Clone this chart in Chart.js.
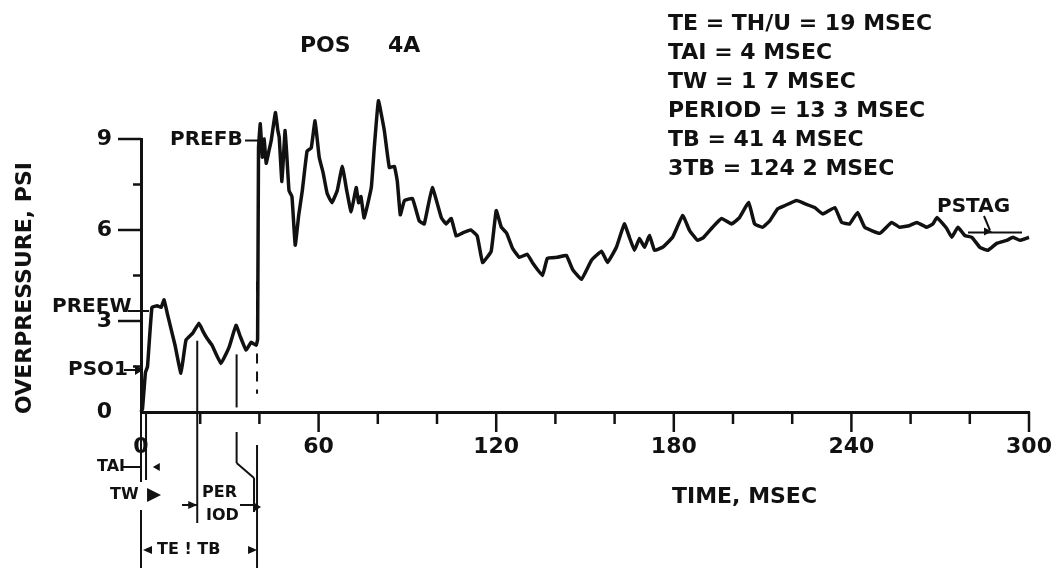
<!DOCTYPE html>
<html>
<head>
<meta charset="utf-8">
<script src="https://cdn.jsdelivr.net/npm/chart.js@4"></script>
<style>
  html, body { margin: 0; padding: 0; background: #fff; }
  #wrap { width: 1063px; height: 568px; }
</style>
</head>
<body>
<div id="wrap"><canvas id="chart" width="1063" height="568"></canvas></div>
<script>
// POS 4A overpressure trace
const timeMs = [
  0, 0.5, 1.5, 2.2, 3.7, 5.5, 6.8, 7.8, 9, 11.5,
  13.5, 15.2, 17.5, 19.6, 21, 22.3, 24, 27, 29.8, 32.1,
  33.5, 35.5, 37.2, 38.9, 39.4, 39.7, 40.3, 41, 41.6, 42.3,
  43.2, 44, 45.4, 46.2, 46.7, 47.6, 48.7, 50, 51, 52.1,
  53.3, 54.5, 56.1, 57.5, 58.8, 60.2, 61.5, 62.9, 64.5, 66.3,
  68, 69.5, 71, 72.7, 73.5, 74.3, 75.4, 77.8, 78.8, 80.2,
  82.2, 83.9, 85.6, 86.6, 87.6, 89, 91.7, 94, 95.7, 98.4,
  101.5, 103.1, 104.8, 106.5, 108.6, 111.4, 113.6, 115.4, 118.3, 120,
  121.7, 123.5, 125.5, 127.8, 130.5, 132.2, 135.6, 137.3, 140.7, 143.7,
  145.8, 148.8, 152.2, 155.6, 157.6, 160.6, 163.3, 165, 166.7, 168.4,
  170.1, 171.8, 173.5, 176.2, 179.6, 183, 185.3, 188, 190, 193.1,
  196.1, 199.5, 202.2, 205.3, 207.3, 210, 212.4, 215.1, 217.4, 221.5,
  224.2, 227.6, 230.3, 234.4, 236.7, 239.4, 242.1, 244.5, 249.6, 253.6,
  256.3, 259.7, 262.1, 265.5, 267.5, 268.9, 272.2, 273.9, 276, 278.3,
  280.7, 283.4, 286.1, 289.1, 292.5, 294.6, 296.9, 300
];
const overpressurePsi = [
  0, 0.1, 1.3, 1.5, 3.45, 3.5, 3.45, 3.7, 3.2, 2.2,
  1.28, 2.37, 2.6, 2.93, 2.65, 2.43, 2.2, 1.6, 2.15, 2.86,
  2.5, 2.04, 2.3, 2.2, 2.4, 8.7, 9.5, 8.4, 9.0, 8.2,
  8.6, 8.95, 9.87, 9.3, 9.05, 7.6, 9.28, 7.3, 7.1, 5.5,
  6.5, 7.3, 8.6, 8.7, 9.6, 8.4, 7.9, 7.2, 6.9, 7.3,
  8.1, 7.3, 6.6, 7.4, 6.9, 7.1, 6.4, 7.4, 8.7, 10.26,
  9.28, 8.06, 8.1, 7.6, 6.5, 6.97, 7.04, 6.3, 6.2, 7.4,
  6.4, 6.2, 6.38, 5.8, 5.9, 6.0, 5.8, 4.93, 5.3, 6.64,
  6.1, 5.9, 5.4, 5.1, 5.2, 4.93, 4.5, 5.07, 5.1, 5.16,
  4.7, 4.37, 5.0, 5.3, 4.93, 5.43, 6.2, 5.76, 5.33, 5.72,
  5.43, 5.82, 5.33, 5.43, 5.76, 6.48, 5.99, 5.66, 5.75, 6.09,
  6.38, 6.2, 6.41, 6.91, 6.2, 6.09, 6.3, 6.7, 6.8, 6.97,
  6.87, 6.74, 6.53, 6.74, 6.25, 6.2, 6.58, 6.09, 5.89, 6.25,
  6.09, 6.15, 6.25, 6.09, 6.2, 6.41, 6.05, 5.76, 6.09, 5.82,
  5.76, 5.43, 5.33, 5.56, 5.66, 5.76, 5.66, 5.76
];
const xTickLabels = [0, 60, 120, 180, 240, 300];
const yTickLabels = [0, 3, 6, 9];
const infoLines = [
  'TE = TH/U = 19 MSEC',
  'TAI = 4 MSEC',
  'TW = 1 7 MSEC',
  'PERIOD = 13 3 MSEC',
  'TB = 41 4 MSEC',
  '3TB = 124 2 MSEC'
];
// marker times (msec) and the PSTAG level (psi)
const teTime = 19, twTime = 1.7, taiTime = 4, periodEnd = 32.3, tbTime = 39.2;
const pstagLevel = 5.92;

const ink = '#111';
const FONT = '"DejaVu Sans", sans-serif';

const annotate = {
  id: 'annotate',
  afterDraw(chart) {
    const { ctx, scales: { x, y } } = chart;
    const X = v => x.getPixelForValue(v);
    const Y = v => y.getPixelForValue(v);
    const x0 = X(0), y0 = Y(0);

    const line = (ax, ay, bx, by) => { ctx.beginPath(); ctx.moveTo(ax, ay); ctx.lineTo(bx, by); ctx.stroke(); };
    const text = (s, px, py, size, align) => {
      ctx.font = 'bold ' + size + 'px ' + FONT;
      ctx.textAlign = align || 'left';
      ctx.textBaseline = 'middle';
      ctx.fillText(s, px, py);
    };
    const arrow = (tx, ty, dir, len, half) => {
      ctx.beginPath();
      ctx.moveTo(tx, ty);
      ctx.lineTo(tx - dir * len, ty - half);
      ctx.lineTo(tx - dir * len, ty + half);
      ctx.closePath();
      ctx.fill();
    };

    ctx.save();
    ctx.strokeStyle = ink;
    ctx.fillStyle = ink;

    // axis ticks
    ctx.lineWidth = 2.5;
    for (let v = 1.5; v <= 9; v += 1.5) {
      const len = v % 3 === 0 ? 23 : 8;
      line(x0 - len, Y(v), x0, Y(v));
    }
    for (let v = 20; v <= 300; v += 20) {
      const len = v % 60 === 0 ? 20 : 12;
      line(X(v), y0, X(v), y0 + len);
    }

    // titles
    text('POS', 300, 46, 22);
    text('4A', 388, 46, 22);
    text('TIME, MSEC', 672, 497, 22);
    ctx.save();
    ctx.translate(25, 288);
    ctx.rotate(-Math.PI / 2);
    text('OVERPRESSURE, PSI', 0, 0, 22, 'center');
    ctx.restore();

    infoLines.forEach((s, i) => text(s, 668, 24 + i * 29, 22));

    // level labels on the left
    ctx.lineWidth = 2;
    text('PREFB', 170, 140, 20);
    line(245, Y(8.95), 258, Y(8.95));
    text('PREFW', 52, 307, 20);
    line(128, 311, x0 + 8, 311);
    text('PSO1', 68, 370, 20);
    line(124, 370, x0 - 4, 370);
    arrow(x0 + 2, 370, 1, 8, 5);

    // PSTAG
    text('PSTAG', 937, 207, 20);
    line(968, Y(pstagLevel), 1022, Y(pstagLevel));
    line(984, 216, 990, Y(pstagLevel) - 2);
    arrow(992, Y(pstagLevel) - 1, 1, 8, 4);

    // vertical markers inside the plot
    ctx.lineWidth = 2;
    line(X(teTime), Y(2.35), X(teTime), y0);
    line(X(periodEnd), Y(1.9), X(periodEnd), Y(0.15));
    ctx.setLineDash([10, 8]);
    line(X(tbTime), Y(4.3), X(tbTime), Y(0.6));
    ctx.setLineDash([]);

    // markers below the axis
    line(x0, y0, x0, 482);
    line(x0, 510, x0, 568);
    line(X(twTime), y0, X(twTime), 480);
    line(X(teTime), y0, X(teTime), 523);
    line(X(periodEnd), 432, X(periodEnd), 463);
    line(X(periodEnd), 463, X(tbTime) - 3, 478);
    line(X(tbTime) - 3, 478, X(tbTime) - 3, 512);
    line(X(tbTime), 445, X(tbTime), 568);

    text('TAI', 97, 467, 16);
    line(122, 467, x0, 467);
    arrow(X(taiTime), 467, -1, 7, 4);
    text('TW', 110, 495, 16);
    arrow(X(twTime) + 15, 495, 1, 14, 7);

    arrow(X(teTime), 505, 1, 9, 4);
    line(182, 505, X(teTime), 505);
    text('PER', 202, 493, 16);
    text('IOD', 206, 516, 16);
    line(240, 505, X(tbTime), 505);
    arrow(X(tbTime) + 4, 507, 1, 8, 5);

    arrow(x0 + 2, 550, -1, 9, 4);
    text('TE ! TB', 157, 550, 16);
    arrow(X(tbTime), 550, 1, 9, 4);

    ctx.restore();
  }
};

new Chart(document.getElementById('chart'), {
  type: 'line',
  data: {
    datasets: [{
      data: timeMs.map((t, i) => ({ x: t, y: overpressurePsi[i] })),
      borderColor: ink,
      borderWidth: 3.5,
      pointRadius: 0,
      tension: 0.1,
      clip: false
    }]
  },
  options: {
    responsive: false,
    animation: false,
    layout: { padding: { top: 139, right: 34, left: 0, bottom: 0 } },
    plugins: { legend: { display: false }, tooltip: { enabled: false } },
    scales: {
      x: {
        type: 'linear',
        min: 0,
        max: 300,
        afterBuildTicks: s => { s.ticks = xTickLabels.map(v => ({ value: v })); },
        afterFit: s => { s.height = 156; s.paddingLeft = 0; s.paddingRight = 0; },
        grid: { display: false, drawTicks: false },
        border: { display: true, color: ink, width: 3 },
        ticks: { color: ink, padding: 22, maxRotation: 0, font: { family: FONT, size: 22, weight: 'bold' } }
      },
      y: {
        min: 0,
        max: 9,
        afterBuildTicks: s => { s.ticks = yTickLabels.map(v => ({ value: v })); },
        afterFit: s => { s.width = 141; },
        grid: { display: false, drawTicks: false },
        border: { display: true, color: ink, width: 3 },
        ticks: { color: ink, padding: 29, font: { family: FONT, size: 22, weight: 'bold' } }
      }
    }
  },
  plugins: [annotate]
});
</script>
</body>
</html>
